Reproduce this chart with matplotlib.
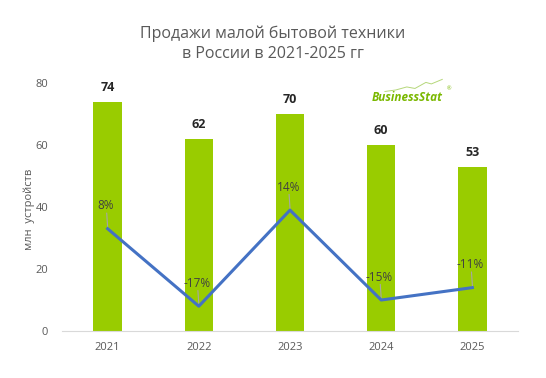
import matplotlib.pyplot as plt

years = ['2021', '2022', '2023', '2024', '2025']
sales = [74, 62, 70, 60, 53]
growth = [8, -17, 14, -15, -11]

plt.rcParams['font.family'] = ['Open Sans', 'DejaVu Sans']
txt = '#595959'

fig = plt.figure(figsize=(5.46, 3.78), dpi=100)
ax = fig.add_axes([0.1136, 0.1243, 0.8351, 0.6561])

x = range(len(years))
ax.bar(x, sales, width=0.31, color='#99CC00', zorder=2)
for i, v in enumerate(sales):
    ax.text(i, v + 2.5, str(v), ha='center', va='bottom', fontsize=9, fontweight='bold', color='#262626')

ax.set_xlim(-0.5, 4.5)
ax.set_ylim(0, 80)
ax.set_yticks([0, 20, 40, 60, 80])
ax.set_xticks(list(x))
ax.set_xticklabels(years)
ax.tick_params(axis='both', length=0, labelsize=8, colors=txt)
ax.tick_params(axis='y', pad=10)
ax.tick_params(axis='x', pad=8)
for s in ['top', 'right', 'left']:
    ax.spines[s].set_visible(False)
ax.spines['bottom'].set_color('#d9d9d9')
ax.set_ylabel('млн  устройств', fontsize=8, color=txt)
ax.yaxis.set_label_coords(-0.06, 0.49)

# second axis for growth line
ax2 = ax.twinx()
ax2.set_ylim(-25, 55)
ax2.axis('off')
ax2.plot(list(x), growth, color='#4472C4', linewidth=2.2, zorder=3)
for i, g in enumerate(growth):
    ax2.plot([i - 0.01, i], [g + 5.0, g + 0.6], color='#a6a6a6', linewidth=0.8)
    ax2.text(i - 0.02, g + 5.3, f'{g}%', ha='center', va='bottom', fontsize=8.5, color='#404040')

fig.text(0.5, 0.884, 'Продажи малой бытовой техники\nв России в 2021-2025 гг', ha='center', va='center',
         fontsize=11.5, color=txt, linespacing=1.4)

# logo
fig.text(0.745, 0.742, 'BusinessStat', fontsize=8.5, fontweight='bold', fontstyle='italic', color='#7AB800',
         ha='center', va='center')
fig.text(0.818, 0.762, '®', fontsize=4, color='#7AB800')
lx = [0.705, 0.725, 0.745, 0.76, 0.78, 0.79, 0.81]
ly = [0.758, 0.762, 0.770, 0.766, 0.782, 0.778, 0.79]
fig.add_artist(plt.Line2D(lx, ly, color='#b5d77a', linewidth=0.7))

fig.savefig('out.png', dpi=100)
